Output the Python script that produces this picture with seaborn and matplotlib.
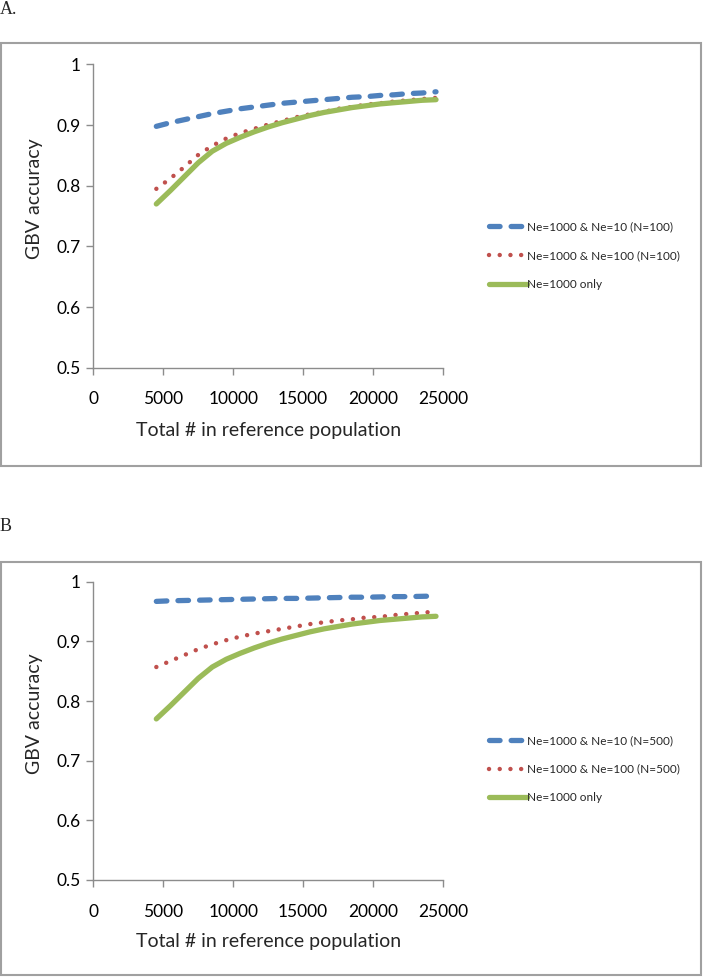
import numpy as np
import pandas as pd
import matplotlib
matplotlib.use("Agg")
import matplotlib.pyplot as plt
import seaborn as sns
from matplotlib.patches import Rectangle

# reference population sizes (x)
ref_size = [4500, 5500, 6500, 7500, 8500, 9500, 10500, 11500, 12500, 13500, 14500,
            15500, 16500, 17500, 18500, 19500, 20500, 21500, 22500, 23500, 24500]

# panel A (N=100)
a_ne10 = [0.898, 0.904, 0.909, 0.914, 0.919, 0.923, 0.927, 0.930, 0.933, 0.936, 0.938,
          0.940, 0.942, 0.944, 0.946, 0.947, 0.949, 0.950, 0.952, 0.953, 0.955]
a_ne100 = [0.795, 0.812, 0.831, 0.851, 0.866, 0.878, 0.887, 0.894, 0.901, 0.907, 0.913,
           0.918, 0.922, 0.927, 0.930, 0.934, 0.936, 0.939, 0.941, 0.943, 0.945]
# panel B (N=500)
b_ne10 = [0.967, 0.968, 0.9685, 0.969, 0.9695, 0.970, 0.9705, 0.971, 0.9715, 0.972, 0.972,
          0.9725, 0.973, 0.9735, 0.974, 0.974, 0.9745, 0.975, 0.975, 0.9755, 0.976]
b_ne100 = [0.857, 0.867, 0.877, 0.887, 0.895, 0.902, 0.908, 0.913, 0.917, 0.921, 0.925,
           0.929, 0.932, 0.935, 0.937, 0.940, 0.941, 0.944, 0.946, 0.948, 0.950]
# Ne=1000 only (same in both panels)
ne1000_only = [0.770, 0.792, 0.815, 0.838, 0.857, 0.870, 0.880, 0.889, 0.897, 0.904, 0.910,
               0.916, 0.921, 0.925, 0.929, 0.932, 0.935, 0.937, 0.939, 0.941, 0.942]

x_ticks = [0, 5000, 10000, 15000, 20000, 25000]
y_ticks = [0.5, 0.6, 0.7, 0.8, 0.9, 1.0]
y_ticklabels = ['0.5', '0.6', '0.7', '0.8', '0.9', '1']

sns.set_style("white")
plt.rcParams['font.family'] = ['Lato', 'DejaVu Sans']

BLUE = '#4F81BD'
RED = '#C0504D'
GREEN = '#9BBB59'
GRAY = '#8C8C8C'

fig = plt.figure(figsize=(7.04, 9.77), dpi=100)

def panel(ax, ne10, ne100, n, leg_y):
    df = pd.DataFrame({'x': ref_size, 'ne10': ne10, 'ne100': ne100, 'only': ne1000_only})
    sns.lineplot(data=df, x='x', y='ne10', ax=ax, color=BLUE, lw=3.8,
                 label='Ne=1000 & Ne=10 (N=%d)' % n)
    l = ax.lines[-1]
    l.set_dashes((2.0, 2.1))
    l.set_dash_capstyle('round')
    sns.lineplot(data=df, x='x', y='ne100', ax=ax, color=RED, lw=3.2,
                 label='Ne=1000 & Ne=100 (N=%d)' % n)
    l = ax.lines[-1]
    l.set_dashes((0.01, 2.4))
    l.set_dash_capstyle('round')
    sns.lineplot(data=df, x='x', y='only', ax=ax, color=GREEN, lw=3.8,
                 label='Ne=1000 only')
    ax.lines[-1].set_solid_capstyle('round')
    ax.lines[-1].set_solid_joinstyle('round')

    ax.set_xlim(0, 25000)
    ax.set_ylim(0.5, 1.0)
    ax.set_xticks(x_ticks)
    ax.set_xticklabels([str(t) for t in x_ticks])
    ax.set_yticks(y_ticks)
    ax.set_yticklabels(y_ticklabels)
    ax.tick_params(axis='both', length=5, width=1, color=GRAY, labelsize=12.5,
                   labelcolor='black', direction='out')
    ax.tick_params(axis='x', pad=12)
    ax.tick_params(axis='y', pad=4)
    ax.tick_params(bottom=True, left=True)
    for s in ['top', 'right']:
        ax.spines[s].set_visible(False)
    for s in ['left', 'bottom']:
        ax.spines[s].set_color(GRAY)
        ax.spines[s].set_linewidth(1)
    ax.set_xlabel('Total # in reference population', fontsize=14)
    ax.set_ylabel('GBV accuracy', fontsize=14)
    ax.xaxis.set_label_coords(0.5, -0.178)
    ax.yaxis.set_label_coords(-0.144, 0.558)
    ax.legend(loc='center left', bbox_to_anchor=(489 / 704, leg_y),
              bbox_transform=fig.transFigure, frameon=False, fontsize=8.5,
              handlelength=3.2, handletextpad=0.05, labelspacing=1.5, borderpad=0,
              borderaxespad=0)

axA = fig.add_axes([93.4 / 704, 1 - 367.7 / 977, 349.6 / 704, 303.2 / 977])
panel(axA, a_ne10, a_ne100, 100, 1 - 255.5 / 977)
axB = fig.add_axes([93.4 / 704, 1 - 880 / 977, 349.6 / 704, 298.3 / 977])
panel(axB, b_ne10, b_ne100, 500, 1 - 769.2 / 977)

# outer frames around each panel
fig.add_artist(Rectangle((1 / 704, 1 - 466 / 977), 700 / 704, 423.3 / 977,
                         transform=fig.transFigure, fill=False, edgecolor='#A0A0A0', lw=1.5))
fig.add_artist(Rectangle((1 / 704, 1 - 975 / 977), 700 / 704, 413.3 / 977,
                         transform=fig.transFigure, fill=False, edgecolor='#A0A0A0', lw=1.5))

fig.text(0, 1 - 9 / 977, 'A.', family='Liberation Serif', fontsize=13, va='center', ha='left')
fig.text(0, 1 - 526.7 / 977, 'B', family='Liberation Serif', fontsize=13, va='center', ha='left')

fig.savefig('out.png', dpi=100)
